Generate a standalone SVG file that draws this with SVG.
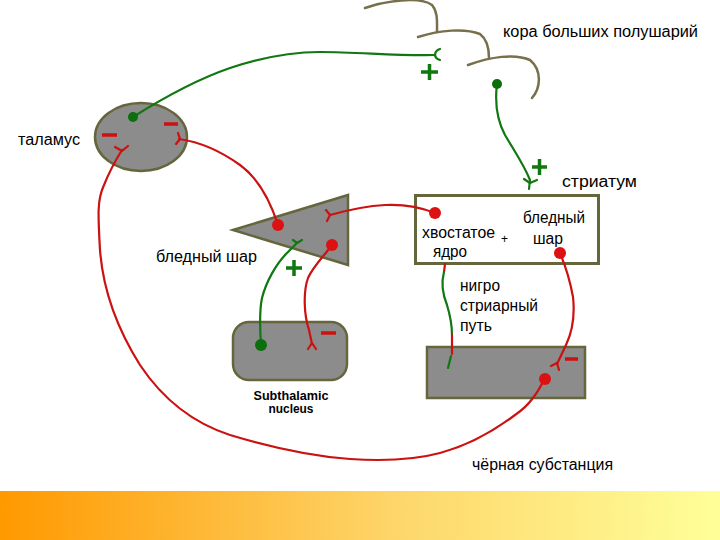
<svg xmlns="http://www.w3.org/2000/svg" width="720" height="540" viewBox="0 0 720 540">
<defs>
<linearGradient id="bar" x1="0" y1="0" x2="1" y2="0">
<stop offset="0" stop-color="#ff9900"/>
<stop offset="0.55" stop-color="#fdd66a"/>
<stop offset="1" stop-color="#ffff99"/>
</linearGradient>
<style>
.t{font-family:"Liberation Sans",Arial,sans-serif;font-size:16px;fill:#000}
.b{font-family:"Liberation Sans",Arial,sans-serif;font-size:12px;font-weight:bold;fill:#000}
.node{fill:#8c8c8c;stroke:#66663d;stroke-width:2.5}
.cortex{fill:none;stroke:#77704a;stroke-width:2.5;stroke-linecap:round}
.red{fill:none;stroke:#cc1111;stroke-width:2.2;stroke-linecap:round;stroke-linejoin:round}
.grn{fill:none;stroke:#117711;stroke-width:2.2;stroke-linecap:round;stroke-linejoin:round}
.rdot{fill:#dd1111}
.gdot{fill:#0d6e0d}
.minus{stroke:#cc1111;stroke-width:3.5}
.plus{stroke:#117711;stroke-width:3.5}
</style>
</defs>
<rect width="720" height="540" fill="#ffffff"/>
<rect x="0" y="491" width="720" height="49" fill="url(#bar)"/>

<g id="cortex">
<path class="cortex" d="M365,8 C385,1 420,-4 432,5 C438,12 437,22 437,32"/>
<path class="cortex" d="M418,37 C440,30 465,28 480,34 C488,40 489,50 489,58"/>
<path class="cortex" d="M468,65 C490,57 515,53 530,60 C542,70 541,88 532,98"/>
<text class="t" x="503" y="37" textLength="195" lengthAdjust="spacingAndGlyphs">кора больших полушарий</text>
</g>

<g id="thalamus">
<ellipse class="node" cx="141" cy="137" rx="46" ry="34"/>
<text class="t" x="18" y="145" textLength="62" lengthAdjust="spacingAndGlyphs">таламус</text>
</g>

<g id="globus-pallidus">
<polygon class="node" points="233,230 348,195 348,265"/>
<text class="t" x="156" y="262" textLength="101" lengthAdjust="spacingAndGlyphs">бледный шар</text>
</g>

<g id="striatum">
<rect x="415.5" y="195.5" width="183" height="68" fill="#ffffff" stroke="#66663d" stroke-width="3"/>
<text class="t" x="562" y="187" textLength="75" lengthAdjust="spacingAndGlyphs">стриатум</text>
<text class="t" x="422" y="238" textLength="73" lengthAdjust="spacingAndGlyphs">хвостатое</text>
<text class="t" x="433" y="257" textLength="34" lengthAdjust="spacingAndGlyphs">ядро</text>
<text class="t" x="501" y="243" style="font-size:12px">+</text>
<text class="t" x="523" y="223" textLength="62" lengthAdjust="spacingAndGlyphs">бледный</text>
<text class="t" x="533" y="244" textLength="30" lengthAdjust="spacingAndGlyphs">шар</text>
</g>

<g id="subthalamic">
<rect class="node" x="233" y="322" width="114" height="58" rx="16"/>
<text class="b" x="291" y="400" text-anchor="middle" textLength="75" lengthAdjust="spacingAndGlyphs">Subthalamic</text>
<text class="b" x="291" y="413" text-anchor="middle" textLength="45" lengthAdjust="spacingAndGlyphs">nucleus</text>
</g>

<g id="substantia-nigra">
<rect class="node" x="427" y="347" width="158" height="51"/>
<text class="t" x="472" y="470" textLength="141" lengthAdjust="spacingAndGlyphs">чёрная субстанция</text>
</g>

<g id="nigrostriatal-label">
<text class="t" x="460" y="291" textLength="40" lengthAdjust="spacingAndGlyphs">нигро</text>
<text class="t" x="460" y="311" textLength="78" lengthAdjust="spacingAndGlyphs">стриарный</text>
<text class="t" x="460" y="331" textLength="32" lengthAdjust="spacingAndGlyphs">путь</text>
</g>

<g id="connectors">
<!-- thalamus to cortex (green) -->
<path class="grn" d="M133,117 C160,100 195,80 230,68 C260,58 290,52 320,52 C360,52 395,56 435,55"/>
<path class="grn" d="M440,49 C434,51 433,58 440,60"/>
<circle class="gdot" cx="133" cy="117" r="5"/>
<!-- cortex to striatum (green) -->
<path class="grn" d="M497,84 C495,100 496,118 505,135 C515,152 524,165 530,180 L529,189"/>
<path class="grn" d="M524,179 L530,183 L537,180"/>
<circle class="gdot" cx="497" cy="84" r="5"/>
<!-- substantia nigra to thalamus (red) -->
<path class="red" d="M545,378 C538,392 530,405 515,415 C495,430 470,445 440,453 C410,461 380,461 350,459 C310,456 270,447 230,435 C190,422 160,395 140,365 C118,330 103,290 100,250 C98,215 97,200 104,185 C110,170 117,158 122,150"/>
<path class="red" d="M115,147 L122,151 L128,146"/>
<circle class="rdot" cx="545" cy="379" r="6"/>
<!-- globus pallidus to thalamus (red) -->
<path class="red" d="M278,225 C270,200 258,178 240,165 C222,152 200,142 179,139"/>
<path class="red" d="M178,133 L180,139 L176,144"/>
<circle class="rdot" cx="278" cy="225" r="6"/>
<!-- striatum to globus pallidus (red) -->
<path class="red" d="M435,213 C420,207 405,204 385,205 C365,206 348,210 330,215"/>
<path class="red" d="M326,210 L330,215 L327,221"/>
<circle class="rdot" cx="435" cy="213" r="6"/>
<!-- globus pallidus to STN (red) -->
<path class="red" d="M332,245 C325,255 314,265 308,278 C303,292 304,315 309,330 L312,344"/>
<path class="red" d="M308,349 L312,343 L316,349"/>
<circle class="rdot" cx="332" cy="245" r="6"/>
<!-- STN to globus pallidus (green) -->
<path class="grn" d="M261,345 C260,330 259,312 262,298 C266,282 276,264 287,253 L297,243"/>
<path class="grn" d="M293,240 L297,243 L302,240"/>
<circle class="gdot" cx="261" cy="345" r="6"/>
<!-- striatum to substantia nigra (red) -->
<path class="red" d="M560,253 C565,265 570,280 573,297 C575,315 573,330 566,345 L557,364"/>
<path class="red" d="M551,366 L557,363 L559,370"/>
<circle class="rdot" cx="560" cy="253" r="6"/>
<!-- nigrostriatal pathway (green / red) -->
<path class="red" d="M445,264 L444,272"/>
<path class="grn" d="M444,272 C441,283 443,295 447,305 C450,315 452,325 452,335"/>
<path class="red" d="M452,335 L452,354"/>
<path class="grn" d="M451,356 L448,368"/>
</g>

<g id="signs">
<line class="minus" x1="102" y1="135" x2="117" y2="135"/>
<line class="minus" x1="164" y1="124" x2="178" y2="124"/>
<line class="minus" x1="321" y1="333" x2="336" y2="333"/>
<line class="minus" x1="565" y1="359" x2="578" y2="359"/>
<path class="plus" d="M421,72 H438 M429.5,64 V80"/>
<path class="plus" d="M532,167 H547 M539.5,159 V175"/>
<path class="plus" d="M286,268 H302 M294,260 V276"/>
</g>
</svg>
